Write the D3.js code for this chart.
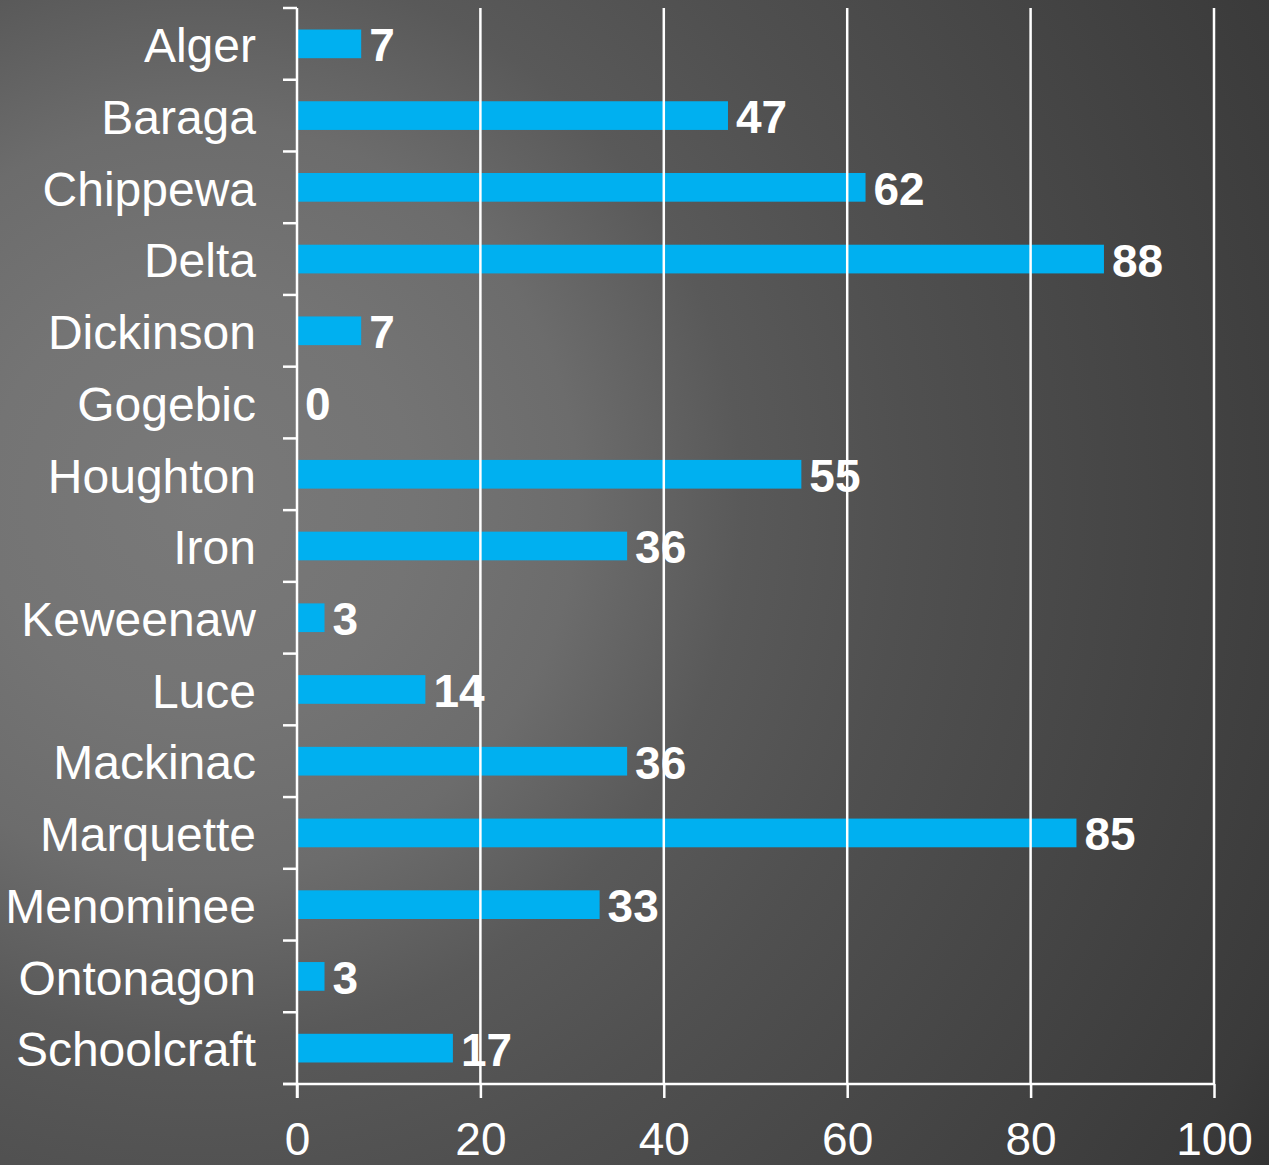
<!DOCTYPE html>
<html>
<head>
<meta charset="utf-8">
<script src="https://cdn.jsdelivr.net/npm/d3@7/dist/d3.min.js"></script>
<style>
  html, body { margin: 0; padding: 0; background: #333; }
  svg { display: block; }
  text { font-family: "Liberation Sans", Arial, sans-serif; fill: #fff; }
</style>
</head>
<body>
<svg id="chart" width="1269" height="1165"></svg>
<script>
// Counties of the Upper Peninsula and their counts
const counties = ["Alger", "Baraga", "Chippewa", "Delta", "Dickinson", "Gogebic",
  "Houghton", "Iron", "Keweenaw", "Luce", "Mackinac", "Marquette", "Menominee",
  "Ontonagon", "Schoolcraft"];
const counts = [7, 47, 62, 88, 7, 0, 55, 36, 3, 14, 36, 85, 33, 3, 17];
const xTicks = [0, 20, 40, 60, 80, 100];

(function () {
const W = 1269, H = 1165;
const plotLeft = 297, plotRight = 1214, plotTop = 8, plotBottom = 1084;

const svg = d3.select("#chart");

// background: soft radial shading, lightest toward the left middle
const defs = svg.append("defs");
const grad = defs.append("radialGradient")
  .attr("id", "bg").attr("gradientUnits", "userSpaceOnUse")
  .attr("cx", 200).attr("cy", 500).attr("r", 1260);
[[0, "#797979"], [0.17, "#747474"], [0.3, "#6c6c6c"], [0.43, "#595959"],
 [0.56, "#505050"], [0.94, "#3a3a3a"], [1, "#333333"]]
  .forEach(([o, c]) => grad.append("stop").attr("offset", o).attr("stop-color", c));
svg.append("rect").attr("width", W).attr("height", H).attr("fill", "url(#bg)");

const x = d3.scaleLinear().domain([0, 100]).range([plotLeft, plotRight]);
const y = d3.scaleBand().domain(counties).range([plotTop, plotBottom])
  .paddingInner(0.6).paddingOuter(0.3);
const step = y.step();

// bars
svg.append("g").selectAll("rect")
  .data(counties)
  .join("rect")
  .attr("x", x(0) + 1)
  .attr("y", d => y(d))
  .attr("width", (d, i) => Math.max(0, x(counts[i]) - x(0) - 1))
  .attr("height", y.bandwidth())
  .attr("fill", "#00b0f0");

// value labels
svg.append("g").selectAll("text")
  .data(counties)
  .join("text")
  .attr("x", (d, i) => x(counts[i]) + 8)
  .attr("y", d => y(d) + y.bandwidth() / 2)
  .attr("dy", "0.38em")
  .style("font-size", "46px")
  .style("font-weight", "bold")
  .text((d, i) => counts[i]);

// vertical gridlines
svg.append("g").selectAll("line")
  .data(xTicks.slice(1))
  .join("line")
  .attr("x1", d => x(d)).attr("x2", d => x(d))
  .attr("y1", plotTop).attr("y2", plotBottom)
  .attr("stroke", "#fff").attr("stroke-width", 2.5);

// category axis: ticks mark the boundaries between categories
const yAxis = svg.append("g");
yAxis.append("line")
  .attr("x1", plotLeft).attr("x2", plotLeft)
  .attr("y1", plotTop).attr("y2", plotBottom + 14)
  .attr("stroke", "#fff").attr("stroke-width", 2.5);
yAxis.selectAll("line.tick")
  .data(d3.range(counties.length + 1))
  .join("line").attr("class", "tick")
  .attr("x1", plotLeft - 14).attr("x2", plotLeft)
  .attr("y1", i => plotTop + i * step).attr("y2", i => plotTop + i * step)
  .attr("stroke", "#fff").attr("stroke-width", 2.5);
yAxis.selectAll("text")
  .data(counties)
  .join("text")
  .attr("x", 256)
  .attr("y", d => y(d) + y.bandwidth() / 2)
  .attr("dy", "0.38em")
  .attr("text-anchor", "end")
  .style("font-size", "48px")
  .text(d => d);

// value axis along the bottom
const xAxis = svg.append("g")
  .attr("transform", `translate(0,${plotBottom})`)
  .call(d3.axisBottom(x).tickValues(xTicks).tickSize(14).tickPadding(24));
xAxis.select(".domain").remove();
xAxis.append("line")
  .attr("x1", plotLeft - 14).attr("x2", plotRight)
  .attr("stroke", "#fff").attr("stroke-width", 2.5);
xAxis.selectAll(".tick line").attr("stroke", "#fff").attr("stroke-width", 2.5);
xAxis.selectAll(".tick text")
  .attr("fill", "#fff")
  .style("font-size", "46px")
  .style("font-family", "'Liberation Sans', Arial, sans-serif");
})();
</script>
</body>
</html>
